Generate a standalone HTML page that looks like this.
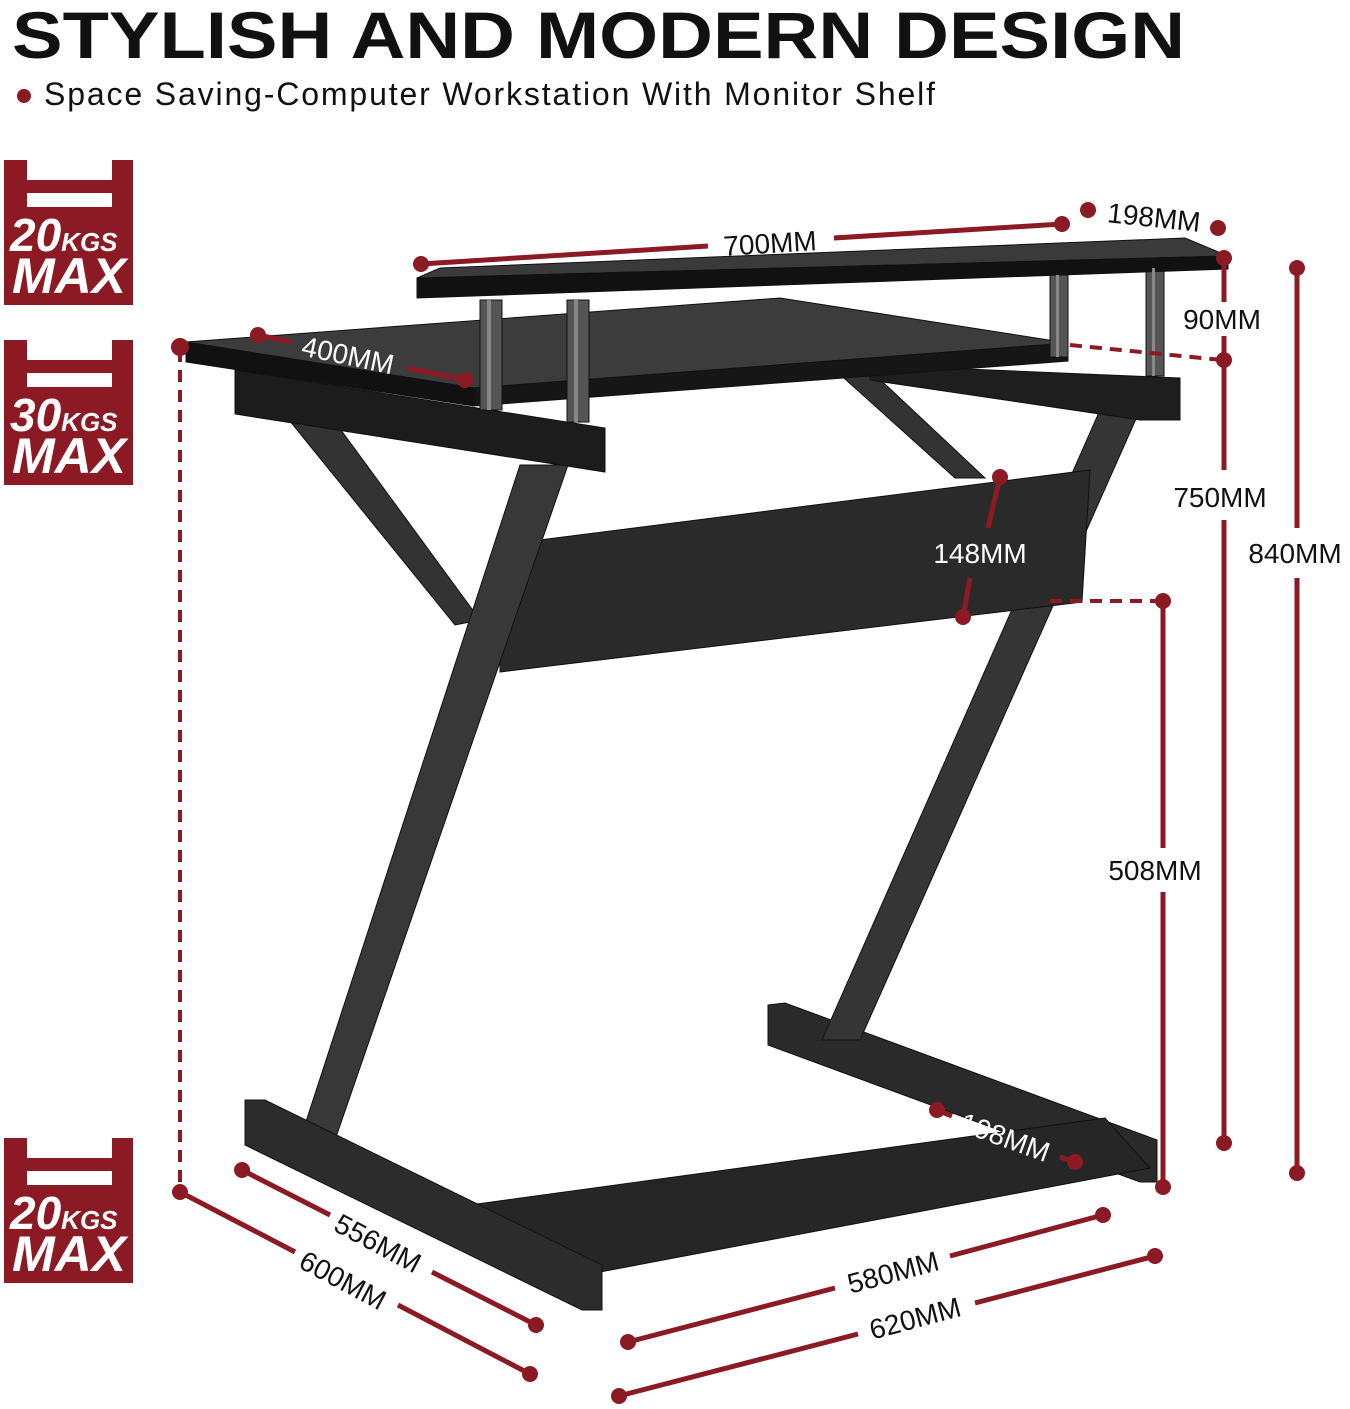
<!DOCTYPE html>
<html><head><meta charset="utf-8"><style>
html,body{margin:0;padding:0;background:#fff;}
svg{display:block;}
text{font-family:"Liberation Sans",sans-serif;}
.d{font-size:28px;fill:#111;}
.w{font-size:28px;fill:#fff;}
</style></head><body>
<svg width="1350" height="1409" viewBox="0 0 1350 1409" xmlns="http://www.w3.org/2000/svg">
<text x="12" y="58" font-size="66" font-weight="bold" fill="#111" textLength="1173" lengthAdjust="spacingAndGlyphs">STYLISH AND MODERN DESIGN</text>
<circle cx="24" cy="96" r="7" fill="#8b1a24"/>
<text x="44" y="105" font-size="32" fill="#111" textLength="891" lengthAdjust="spacing">Space Saving-Computer Workstation With Monitor Shelf</text>

<g id="b1">
<rect x="4" y="160" width="129" height="145" fill="#8b1a24"/>
<rect x="27" y="160" width="85" height="20" fill="#fff"/>
<rect x="27" y="193" width="85" height="14" fill="#fff"/>
</g>
<text x="10" y="251" font-size="46" font-weight="bold" font-style="italic" fill="#fff">20<tspan font-size="26">KGS</tspan></text>
<text x="12" y="293" font-size="50" font-weight="bold" font-style="italic" fill="#fff" textLength="114" lengthAdjust="spacingAndGlyphs">MAX</text>
<use href="#b1" y="180"/>
<text x="10" y="431" font-size="46" font-weight="bold" font-style="italic" fill="#fff">30<tspan font-size="26">KGS</tspan></text>
<text x="12" y="473" font-size="50" font-weight="bold" font-style="italic" fill="#fff" textLength="114" lengthAdjust="spacingAndGlyphs">MAX</text>
<use href="#b1" y="978"/>
<text x="10" y="1229" font-size="46" font-weight="bold" font-style="italic" fill="#fff">20<tspan font-size="26">KGS</tspan></text>
<text x="12" y="1271" font-size="50" font-weight="bold" font-style="italic" fill="#fff" textLength="114" lengthAdjust="spacingAndGlyphs">MAX</text>

<g stroke="#111" stroke-width="1">
<polygon points="835,370 870,370 985,478 955,478" fill="#333"/>
<polygon points="768,1005 785,1003 1157,1140 1157,1182 1140,1182 768,1045" fill="#2a2a2a"/>
<polygon points="1100,410 1140,410 860,1040 822,1040" fill="#353535"/>
<polygon points="285,415 330,415 480,620 455,625" fill="#333"/>
<polygon points="500,545 1090,470 1082,602 500,672" fill="#2a2a2a"/>
<polygon points="520,465 568,465 335,1140 300,1140" fill="#383838"/>
<polygon points="470,1205 1105,1118 1150,1168 600,1272" fill="#262626"/>
<polygon points="245,1100 265,1100 602,1265 602,1310 582,1310 245,1145" fill="#2c2c2c"/>
<polygon points="235,370 605,428 605,472 235,414" fill="#1c1c1c"/>
<polygon points="870,365 1180,378 1180,420 1140,420 870,380" fill="#1e1e1e"/>
<polygon points="186,342 780,298 1068,343 474,388" fill="#3c3c3c"/>
<polygon points="186,342 474,388 474,406 186,362" fill="#111"/>
<polygon points="474,388 1068,343 1068,361 474,406" fill="#161616"/>
<rect x="480" y="300" width="22" height="110" fill="#555"/>
<rect x="567" y="300" width="22" height="122" fill="#555"/>
<rect x="1050" y="275" width="18" height="82" fill="#555"/>
<rect x="1146" y="268" width="18" height="108" fill="#555"/>
<polygon points="417,278 440,268 1185,238 1228,256" fill="#3a3a3a"/>
<polygon points="417,278 1228,256 1228,269 417,298" fill="#111"/>
</g>
<g fill="#888"><rect x="487" y="300" width="4" height="110"/><rect x="574" y="300" width="4" height="122"/><rect x="1056" y="275" width="3" height="82"/><rect x="1152" y="268" width="3" height="108"/></g>

<g stroke="#8b1a24" stroke-width="5" fill="none">
<line x1="421" y1="264" x2="708" y2="246"/>
<line x1="834" y1="238" x2="1062" y2="224"/>
<line x1="1224" y1="258" x2="1224" y2="302"/>
<line x1="1224" y1="336" x2="1224" y2="470"/>
<line x1="1224" y1="520" x2="1224" y2="1143"/>
<line x1="1297" y1="268" x2="1297" y2="528"/>
<line x1="1297" y1="578" x2="1297" y2="1173"/>
<line x1="258" y1="335" x2="292" y2="342"/>
<line x1="408" y1="368" x2="465" y2="380"/>
<line x1="1000" y1="477" x2="988" y2="528"/>
<line x1="970" y1="578" x2="963" y2="617"/>
<line x1="1163" y1="601" x2="1163" y2="848"/>
<line x1="1163" y1="892" x2="1163" y2="1187"/>
<line x1="242" y1="1170" x2="330" y2="1215"/>
<line x1="432" y1="1272" x2="536" y2="1325"/>
<line x1="180" y1="1192" x2="295" y2="1252"/>
<line x1="398" y1="1305" x2="530" y2="1374"/>
<line x1="628" y1="1342" x2="835" y2="1288"/>
<line x1="950" y1="1256" x2="1103" y2="1215"/>
<line x1="619" y1="1396" x2="858" y2="1334"/>
<line x1="975" y1="1303" x2="1155" y2="1256"/>
<line x1="937" y1="1110" x2="952" y2="1116"/>
<line x1="1060" y1="1157" x2="1075" y2="1162"/>
</g>
<g stroke="#8b1a24" stroke-width="4" stroke-dasharray="12,8" fill="none">
<line x1="180" y1="350" x2="180" y2="1190"/>
<line x1="1070" y1="345" x2="1222" y2="360"/>
<line x1="1050" y1="601" x2="1160" y2="601"/>
</g>
<g fill="#8b1a24">
<circle cx="421" cy="264" r="8"/><circle cx="1062" cy="224" r="8"/>
<circle cx="1088" cy="210" r="8"/><circle cx="1218" cy="228" r="8"/>
<circle cx="1224" cy="258" r="8"/><circle cx="1224" cy="360" r="8"/><circle cx="1224" cy="1143" r="8"/>
<circle cx="1297" cy="268" r="8"/><circle cx="1297" cy="1173" r="8"/>
<circle cx="180" cy="347" r="9"/><circle cx="180" cy="1192" r="8"/>
<circle cx="258" cy="335" r="8"/><circle cx="465" cy="380" r="8"/>
<circle cx="1000" cy="477" r="8"/><circle cx="963" cy="617" r="8"/>
<circle cx="1163" cy="601" r="8"/><circle cx="1163" cy="1187" r="8"/>
<circle cx="937" cy="1110" r="8"/><circle cx="1075" cy="1162" r="8"/>
<circle cx="242" cy="1170" r="8"/><circle cx="536" cy="1325" r="8"/>
<circle cx="530" cy="1374" r="8"/>
<circle cx="628" cy="1342" r="8"/><circle cx="1103" cy="1215" r="8"/>
<circle cx="619" cy="1396" r="8"/><circle cx="1155" cy="1256" r="8"/>
</g>

<text class="d" x="770" y="253" text-anchor="middle" transform="rotate(-3.5 770 243)">700MM</text>
<text class="d" x="1154" y="227" text-anchor="middle" transform="rotate(6 1154 217)">198MM</text>
<text class="d" x="1222" y="329" text-anchor="middle">90MM</text>
<text class="d" x="1220" y="507" text-anchor="middle">750MM</text>
<text class="d" x="1295" y="563" text-anchor="middle">840MM</text>
<text class="w" x="348" y="365" text-anchor="middle" transform="rotate(12 348 355)">400MM</text>
<text class="w" x="980" y="563" text-anchor="middle">148MM</text>
<text class="d" x="1155" y="880" text-anchor="middle">508MM</text>
<text class="w" x="1005" y="1147" text-anchor="middle" transform="rotate(20 1005 1137)">198MM</text>
<text class="d" x="378" y="1253" text-anchor="middle" transform="rotate(28 378 1243)">556MM</text>
<text class="d" x="343" y="1290" text-anchor="middle" transform="rotate(28 343 1280)">600MM</text>
<text class="d" x="893" y="1282" text-anchor="middle" transform="rotate(-15 893 1272)">580MM</text>
<text class="d" x="915" y="1328" text-anchor="middle" transform="rotate(-15 915 1318)">620MM</text>
</svg>
</body></html>
